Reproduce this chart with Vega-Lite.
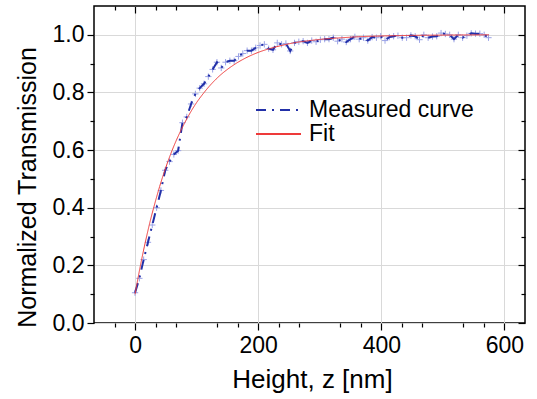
{
  "$schema": "https://vega.github.io/schema/vega-lite/v6.json",
  "width": 431,
  "height": 317,
  "autosize": "none",
  "padding": {"left": 94, "top": 6, "right": 12, "bottom": 76},
  "background": "white",
  "config": {
    "font": "Liberation Sans",
    "view": {"stroke": "#000", "strokeWidth": 1.5},
    "axis": {"domain": false, "grid": false, "labels": false, "title": null, "tickColor": "#000", "tickWidth": 1.2, "labelColor": "#000", "titleColor": "#000", "titleFontWeight": "normal", "labelFont": "Liberation Sans", "titleFont": "Liberation Sans"},
    "legend": {"labelFont": "Liberation Sans", "labelLimit": 400}
  },
  "datasets": {
    "measured": [
      {"z": 0, "T": 0.105, "series": "Measured curve"},
      {"z": 7, "T": 0.155, "series": "Measured curve"},
      {"z": 14, "T": 0.22, "series": "Measured curve"},
      {"z": 21, "T": 0.28, "series": "Measured curve"},
      {"z": 28, "T": 0.34, "series": "Measured curve"},
      {"z": 35, "T": 0.4, "series": "Measured curve"},
      {"z": 42, "T": 0.46, "series": "Measured curve"},
      {"z": 49, "T": 0.53, "series": "Measured curve"},
      {"z": 56, "T": 0.56, "series": "Measured curve"},
      {"z": 63, "T": 0.585, "series": "Measured curve"},
      {"z": 70, "T": 0.598, "series": "Measured curve"},
      {"z": 77, "T": 0.695, "series": "Measured curve"},
      {"z": 84, "T": 0.715, "series": "Measured curve"},
      {"z": 91, "T": 0.76, "series": "Measured curve"},
      {"z": 98, "T": 0.795, "series": "Measured curve"},
      {"z": 105, "T": 0.815, "series": "Measured curve"},
      {"z": 112, "T": 0.83, "series": "Measured curve"},
      {"z": 119, "T": 0.855, "series": "Measured curve"},
      {"z": 126, "T": 0.88, "series": "Measured curve"},
      {"z": 133, "T": 0.905, "series": "Measured curve"},
      {"z": 140, "T": 0.885, "series": "Measured curve"},
      {"z": 147, "T": 0.905, "series": "Measured curve"},
      {"z": 154, "T": 0.91, "series": "Measured curve"},
      {"z": 161, "T": 0.91, "series": "Measured curve"},
      {"z": 168, "T": 0.925, "series": "Measured curve"},
      {"z": 175, "T": 0.935, "series": "Measured curve"},
      {"z": 182, "T": 0.945, "series": "Measured curve"},
      {"z": 189, "T": 0.945, "series": "Measured curve"},
      {"z": 196, "T": 0.955, "series": "Measured curve"},
      {"z": 203, "T": 0.963, "series": "Measured curve"},
      {"z": 210, "T": 0.967, "series": "Measured curve"},
      {"z": 217, "T": 0.952, "series": "Measured curve"},
      {"z": 224, "T": 0.948, "series": "Measured curve"},
      {"z": 231, "T": 0.972, "series": "Measured curve"},
      {"z": 238, "T": 0.967, "series": "Measured curve"},
      {"z": 245, "T": 0.97, "series": "Measured curve"},
      {"z": 252, "T": 0.944, "series": "Measured curve"},
      {"z": 259, "T": 0.972, "series": "Measured curve"},
      {"z": 266, "T": 0.976, "series": "Measured curve"},
      {"z": 273, "T": 0.978, "series": "Measured curve"},
      {"z": 280, "T": 0.972, "series": "Measured curve"},
      {"z": 287, "T": 0.98, "series": "Measured curve"},
      {"z": 294, "T": 0.976, "series": "Measured curve"},
      {"z": 301, "T": 0.983, "series": "Measured curve"},
      {"z": 308, "T": 0.985, "series": "Measured curve"},
      {"z": 315, "T": 0.985, "series": "Measured curve"},
      {"z": 322, "T": 0.99, "series": "Measured curve"},
      {"z": 329, "T": 0.978, "series": "Measured curve"},
      {"z": 336, "T": 0.985, "series": "Measured curve"},
      {"z": 343, "T": 0.975, "series": "Measured curve"},
      {"z": 350, "T": 0.985, "series": "Measured curve"},
      {"z": 357, "T": 0.993, "series": "Measured curve"},
      {"z": 364, "T": 0.985, "series": "Measured curve"},
      {"z": 371, "T": 0.99, "series": "Measured curve"},
      {"z": 378, "T": 0.98, "series": "Measured curve"},
      {"z": 385, "T": 0.992, "series": "Measured curve"},
      {"z": 392, "T": 0.99, "series": "Measured curve"},
      {"z": 399, "T": 0.995, "series": "Measured curve"},
      {"z": 406, "T": 0.98, "series": "Measured curve"},
      {"z": 413, "T": 0.992, "series": "Measured curve"},
      {"z": 420, "T": 0.995, "series": "Measured curve"},
      {"z": 427, "T": 0.997, "series": "Measured curve"},
      {"z": 434, "T": 0.99, "series": "Measured curve"},
      {"z": 441, "T": 0.99, "series": "Measured curve"},
      {"z": 448, "T": 0.998, "series": "Measured curve"},
      {"z": 455, "T": 0.995, "series": "Measured curve"},
      {"z": 462, "T": 0.983, "series": "Measured curve"},
      {"z": 469, "T": 1.0, "series": "Measured curve"},
      {"z": 476, "T": 0.99, "series": "Measured curve"},
      {"z": 483, "T": 0.994, "series": "Measured curve"},
      {"z": 490, "T": 0.995, "series": "Measured curve"},
      {"z": 497, "T": 1.006, "series": "Measured curve"},
      {"z": 504, "T": 1.003, "series": "Measured curve"},
      {"z": 511, "T": 1.0, "series": "Measured curve"},
      {"z": 518, "T": 0.985, "series": "Measured curve"},
      {"z": 525, "T": 1.0, "series": "Measured curve"},
      {"z": 532, "T": 0.99, "series": "Measured curve"},
      {"z": 539, "T": 0.997, "series": "Measured curve"},
      {"z": 546, "T": 1.005, "series": "Measured curve"},
      {"z": 553, "T": 1.004, "series": "Measured curve"},
      {"z": 560, "T": 1.004, "series": "Measured curve"},
      {"z": 567, "T": 1.0, "series": "Measured curve"},
      {"z": 574, "T": 0.99, "series": "Measured curve"}
    ],
    "fit": [
      {"z": 0, "T": 0.1, "series": "Fit"},
      {"z": 5, "T": 0.158, "series": "Fit"},
      {"z": 10, "T": 0.213, "series": "Fit"},
      {"z": 15, "T": 0.264, "series": "Fit"},
      {"z": 20, "T": 0.312, "series": "Fit"},
      {"z": 25, "T": 0.357, "series": "Fit"},
      {"z": 30, "T": 0.398, "series": "Fit"},
      {"z": 35, "T": 0.437, "series": "Fit"},
      {"z": 40, "T": 0.474, "series": "Fit"},
      {"z": 50, "T": 0.54, "series": "Fit"},
      {"z": 60, "T": 0.598, "series": "Fit"},
      {"z": 70, "T": 0.648, "series": "Fit"},
      {"z": 80, "T": 0.692, "series": "Fit"},
      {"z": 90, "T": 0.731, "series": "Fit"},
      {"z": 100, "T": 0.765, "series": "Fit"},
      {"z": 110, "T": 0.794, "series": "Fit"},
      {"z": 120, "T": 0.82, "series": "Fit"},
      {"z": 130, "T": 0.843, "series": "Fit"},
      {"z": 140, "T": 0.863, "series": "Fit"},
      {"z": 150, "T": 0.88, "series": "Fit"},
      {"z": 165, "T": 0.902, "series": "Fit"},
      {"z": 180, "T": 0.92, "series": "Fit"},
      {"z": 200, "T": 0.939, "series": "Fit"},
      {"z": 220, "T": 0.953, "series": "Fit"},
      {"z": 240, "T": 0.964, "series": "Fit"},
      {"z": 260, "T": 0.973, "series": "Fit"},
      {"z": 280, "T": 0.979, "series": "Fit"},
      {"z": 300, "T": 0.984, "series": "Fit"},
      {"z": 330, "T": 0.989, "series": "Fit"},
      {"z": 360, "T": 0.993, "series": "Fit"},
      {"z": 400, "T": 0.996, "series": "Fit"},
      {"z": 450, "T": 0.998, "series": "Fit"},
      {"z": 500, "T": 0.999, "series": "Fit"},
      {"z": 575, "T": 1.0, "series": "Fit"}
    ]
  },
  "resolve": {"axis": {"x": "independent", "y": "independent"}},
  "layer": [
    {
      "data": {"name": "measured"},
      "mark": {"type": "point", "shape": "M-1,0L1,0M0,-1L0,1", "filled": false, "size": 40, "strokeWidth": 1, "color": "#9aa2e6", "opacity": 1},
      "encoding": {
        "x": {"field": "z", "type": "quantitative", "scale": {"domain": [-66.67, 633.33], "nice": false, "zero": false},
          "axis": {"orient": "top", "values": [0, 200, 400, 600], "tickSize": -7, "labels": false, "title": null}},
        "y": {"field": "T", "type": "quantitative", "scale": {"domain": [0, 1.1], "nice": false},
          "axis": {"orient": "right", "values": [0, 0.2, 0.4, 0.6, 0.8, 1.0], "tickSize": -7, "labels": false, "title": null}}
      }
    },
    {
      "data": {"name": "measured"},
      "mark": {"type": "line", "strokeWidth": 2},
      "encoding": {
        "x": {"field": "z", "type": "quantitative", "scale": {"domain": [-66.67, 633.33], "nice": false, "zero": false},
          "axis": {"orient": "bottom", "values": [-33.33, 33.33, 66.67, 133.33, 166.67, 233.33, 266.67, 333.33, 366.67, 433.33, 466.67, 533.33, 566.67], "tickSize": 4, "labels": false, "title": null}},
        "y": {"field": "T", "type": "quantitative", "scale": {"domain": [0, 1.1], "nice": false},
          "axis": {"orient": "left", "values": [0.1, 0.3, 0.5, 0.7, 0.9], "tickSize": 4, "labels": false, "title": null}},
        "color": {"field": "series", "type": "nominal", "scale": {"domain": ["Measured curve", "Fit"], "range": ["#2230a8", "#ee3a3a"]},
          "legend": {"orient": "none", "legendX": 161, "legendY": 92, "title": null, "labelFontSize": 23, "labelLimit": 400, "labelColor": "#000", "symbolSize": 2025, "symbolStrokeWidth": 2, "labelOffset": 7, "rowPadding": 0, "clipHeight": 24}},
        "strokeDash": {"field": "series", "type": "nominal", "scale": {"domain": ["Measured curve", "Fit"], "range": [[10, 6, 2, 6], [1, 0]]},
          "legend": {"orient": "none", "legendX": 161, "legendY": 92, "title": null, "labelFontSize": 23, "labelLimit": 400, "labelColor": "#000", "symbolSize": 2025, "symbolStrokeWidth": 2, "labelOffset": 7, "rowPadding": 0, "clipHeight": 24}}
      }
    },
    {
      "data": {"name": "fit"},
      "mark": {"type": "line", "strokeWidth": 1, "interpolate": "monotone"},
      "encoding": {
        "x": {"field": "z", "type": "quantitative", "scale": {"domain": [-66.67, 633.33], "nice": false, "zero": false},
          "axis": {"orient": "bottom", "values": [0, 200, 400, 600], "tickSize": 7, "labels": true, "labelFontSize": 23, "labelPadding": 4, "grid": true, "gridColor": "#d9d9d9", "gridWidth": 1,
            "title": "Height, z [nm]", "titleFontSize": 26, "titleX": 218, "titleY": 64, "titleBaseline": "alphabetic"}},
        "y": {"field": "T", "type": "quantitative", "scale": {"domain": [0, 1.1], "nice": false},
          "axis": {"orient": "left", "values": [0, 0.2, 0.4, 0.6, 0.8, 1.0], "format": ".1f", "tickSize": 7, "labels": true, "labelFontSize": 23, "labelPadding": 3, "grid": true, "gridColor": "#d9d9d9", "gridWidth": 1,
            "title": "Normalized Transmission", "titleFontSize": 25, "titleX": -67, "titleY": 181, "titleAngle": -90, "titleBaseline": "middle", "titleAlign": "center"}},
        "color": {"field": "series", "type": "nominal", "scale": {"domain": ["Measured curve", "Fit"], "range": ["#2230a8", "#ee3a3a"]}},
        "strokeDash": {"field": "series", "type": "nominal", "scale": {"domain": ["Measured curve", "Fit"], "range": [[10, 6, 2, 6], [1, 0]]}}
      }
    },
    {
      "data": {"name": "fit"},
      "mark": {"type": "point", "opacity": 0},
      "encoding": {
        "x": {"field": "z", "type": "quantitative", "scale": {"domain": [-66.67, 633.33], "nice": false, "zero": false},
          "axis": {"orient": "top", "values": [-33.33, 33.33, 66.67, 133.33, 166.67, 233.33, 266.67, 333.33, 366.67, 433.33, 466.67, 533.33, 566.67], "tickSize": -4, "labels": false, "title": null}},
        "y": {"field": "T", "type": "quantitative", "scale": {"domain": [0, 1.1], "nice": false},
          "axis": {"orient": "right", "values": [0.1, 0.3, 0.5, 0.7, 0.9], "tickSize": -4, "labels": false, "title": null}}
      }
    },
    {
      "mark": {"type": "text", "text": "Equation: T(z) = 1 - 0.9*exp(-(z/74.5))", "fontSize": 22, "color": "#f01818", "align": "center", "baseline": "middle", "font": "Liberation Sans"},
      "encoding": {
        "x": {"datum": 345, "type": "quantitative", "axis": null},
        "y": {"datum": 0.254, "type": "quantitative", "axis": null}
      }
    }
  ]
}
